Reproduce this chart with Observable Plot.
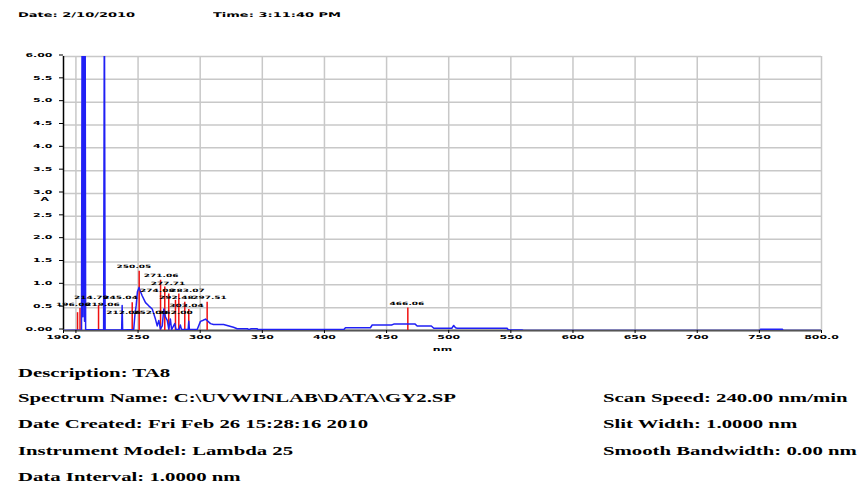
<!DOCTYPE html>
<html><head><meta charset="utf-8">
<script src="https://cdn.jsdelivr.net/npm/d3@7"></script>
<script src="https://cdn.jsdelivr.net/npm/@observablehq/plot@0.6"></script>
<style>
body{margin:0;background:#fff;}
#wrap{position:relative;width:859px;height:485px;overflow:hidden;background:#fff;}
.hd{position:absolute;top:10px;font-family:"DejaVu Sans";font-weight:bold;font-size:6.5px;line-height:10px;white-space:nowrap;transform-origin:0 50%;transform:scaleX(2.0);color:#000;}
.ft{position:absolute;font-family:"Liberation Serif";font-weight:bold;font-size:12px;line-height:14px;white-space:nowrap;transform-origin:0 50%;transform:scaleX(1.73);color:#000;}
#chart{position:absolute;left:0;top:42px;}
</style></head>
<body><div id="wrap"><div id="chart"></div></div>
<script>
// ---- data ----
const headerTexts = ["Date: 2/10/2010", "Time: 3:11:40 PM"];
const footerLeft = [
  "Description: TA8",
  "Spectrum Name: C:\\UVWINLAB\\DATA\\GY2.SP",
  "Date Created: Fri Feb 26 15:28:16 2010",
  "Instrument Model: Lambda 25",
  "Data Interval: 1.0000 nm"
];
const footerRight = ["Scan Speed: 240.00 nm/min", "Slit Width: 1.0000 nm", "Smooth Bandwidth: 0.00 nm"];

const xTicks = [190, 200, 250, 300, 350, 400, 450, 500, 550, 600, 650, 700, 750, 800];
const xGrid = [200, 250, 300, 350, 400, 450, 500, 550, 600, 650, 700, 750, 800];
const yTicks = [0, 0.5, 1, 1.5, 2, 2.5, 3, 3.5, 4, 4.5, 5, 5.5, 6];

// spectrum (nm, absorbance)
const specNm = [190,204.5,205,205.6,206.2,206.9,207.4,207.8,222.3,222.9,223.5,236.8,237.2,237.6,
  246.5,247.5,248.5,249.5,250.8,252,253.3,256,258.6,261.4,262.4,264,265.4,266.7,268,269.5,270.7,272,273.5,274.7,276,277,279.5,280.5,283,284,285,290.3,290.8,291.3,
  297.6,300.2,302,304.3,305.6,308.3,310.7,318.8,321.7,326.8,329.8,338,339,341,345.9,346.5,415.6,416.9,437,438.4,454,455.8,473,474.6,486,488,502.5,504,505.5,506.8,547,548,559,560,750.5,751,768.5,769,800];
const specA = [0,0.01,7.5,0.3,7.5,0.2,7.5,0.02,0.01,7.5,0.01,0.01,0.55,0.01,
  0.02,0.35,0.55,0.85,0.94,0.85,0.76,0.61,0.54,0.47,0.39,0.25,0.1,0.22,0.03,0.1,0.47,0.3,0.22,0.03,0.25,0.02,0.15,0.02,0.02,0.12,0.02,0.02,0.2,0.02,
  0.02,0.2,0.22,0.25,0.22,0.15,0.13,0.13,0.11,0.07,0.04,0.04,0.02,0.04,0.04,0.02,0.02,0.06,0.06,0.12,0.12,0.14,0.14,0.1,0.1,0.05,0.05,0.11,0.06,0.05,0.05,0.01,0.01,0,0,0.03,0.03,0,0];

// peak marker lines (nm, top)
const peakNm  = [201.3, 203.3, 218.2, 245.3, 250.9, 268.1, 271.5, 274.7, 280.1, 282.8, 287.6, 290.8, 305.6, 467.1];
const peakTop = [0.39, 0.48, 0.55, 0.61, 1.30, 1.10, 0.95, 0.80, 0.66, 0.80, 0.62, 0.46, 0.62, 0.49];

// peak labels (nm, absorbance position, text)
const labelNm = [246.7, 268.5, 274.1, 265.6, 289.8, 280.9, 307.5, 289.0, 238.3, 260.0, 280.1, 212.5, 235.9, 198.0, 221.4, 466.4];
const labelA  = [1.40, 1.20, 1.03, 0.88, 0.88, 0.72, 0.72, 0.55, 0.39, 0.39, 0.39, 0.72, 0.72, 0.57, 0.57, 0.59];
const labelText = ["250.05","271.06","277.71","274.08","283.07","292.48","297.51","303.04","212.06","252.00","262.00","214.79","245.04","196.06","219.06","466.06"];

// ---- build ----
const spec = specNm.map((x, i) => ({x, y: specA[i]}));
const peaks = peakNm.map((x, i) => ({x, top: peakTop[i]}));
const labels = labelNm.map((x, i) => ({x, y: labelA[i], t: labelText[i]}));

const chart = Plot.plot({
  width: 859, height: 318,
  marginLeft: 63, marginRight: 38, marginTop: 14, marginBottom: 30,
  x: {domain: [190, 800]},
  y: {domain: [0, 6]},
  style: {fontFamily: "DejaVu Sans", fontSize: "5.5px", fontWeight: "bold", color: "#000", background: "#fff"},
  marks: [
    Plot.gridX(xGrid, {stroke: "#c8c8c8", strokeOpacity: 1, strokeWidth: 1.5}),
    Plot.gridY(yTicks, {stroke: "#c8c8c8", strokeOpacity: 1, strokeWidth: 1.5}),
    Plot.ruleX([190], {stroke: "#000", strokeWidth: 1.5}),
    Plot.ruleY([0], {stroke: "#555", strokeWidth: 2}),
    Plot.ruleX(peaks, {x: "x", y1: 0, y2: "top", stroke: "#f01010", strokeWidth: 1.5}),
    Plot.line(spec, {x: "x", y: "y", stroke: "#2020f5", strokeWidth: 1.5, clip: true}),
    Plot.axisX(xTicks, {tickSize: 3, tickPadding: 2, tickFormat: d => d === 190 ? "190.0" : d === 800 ? "800.0" : d === 200 ? "" : String(d),
      label: "nm", labelAnchor: "center", labelOffset: 20, labelArrow: "none"}),
    Plot.axisY(yTicks, {tickSize: 4, tickPadding: 7, dy: -1.5, tickFormat: d => d === 0 ? "0.00" : d === 6 ? "6.00" : d.toFixed(1), label: null}),
    Plot.text(["A"], {frameAnchor: "left", dx: -23, dy: 6, ariaLabel: "y label"}),
    Plot.text(labels, {x: "x", y: "y", text: "t", fontSize: 4.5, ariaLabel: "peak label"})
  ]
});

// widen the small bitmap-like labels horizontally like the reference
chart.querySelectorAll("text").forEach(t => {
  const g = t.closest("g[aria-label]");
  const s = g && g.getAttribute("aria-label") === "peak label" ? 1.65 : 2.0;
  const tr = t.getAttribute("transform") || "";
  t.setAttribute("transform", `${tr} scale(${s},1)`);
});
document.getElementById("chart").appendChild(chart);

const wrap = document.getElementById("wrap");
const hx = [18, 213];
headerTexts.forEach((s, i) => {
  const d = document.createElement("div");
  d.className = "hd"; d.style.left = hx[i] + "px"; d.textContent = s; wrap.appendChild(d);
});
const leftY = [373, 398, 424, 451, 477];
footerLeft.forEach((s, i) => {
  const d = document.createElement("div");
  d.className = "ft"; d.style.left = "18px"; d.style.top = (leftY[i] - 7) + "px"; d.textContent = s; wrap.appendChild(d);
});
const rightY = [398, 424, 451];
footerRight.forEach((s, i) => {
  const d = document.createElement("div");
  d.className = "ft"; d.style.left = "603px"; d.style.top = (rightY[i] - 7) + "px"; d.textContent = s; wrap.appendChild(d);
});
</script>
</body></html>
